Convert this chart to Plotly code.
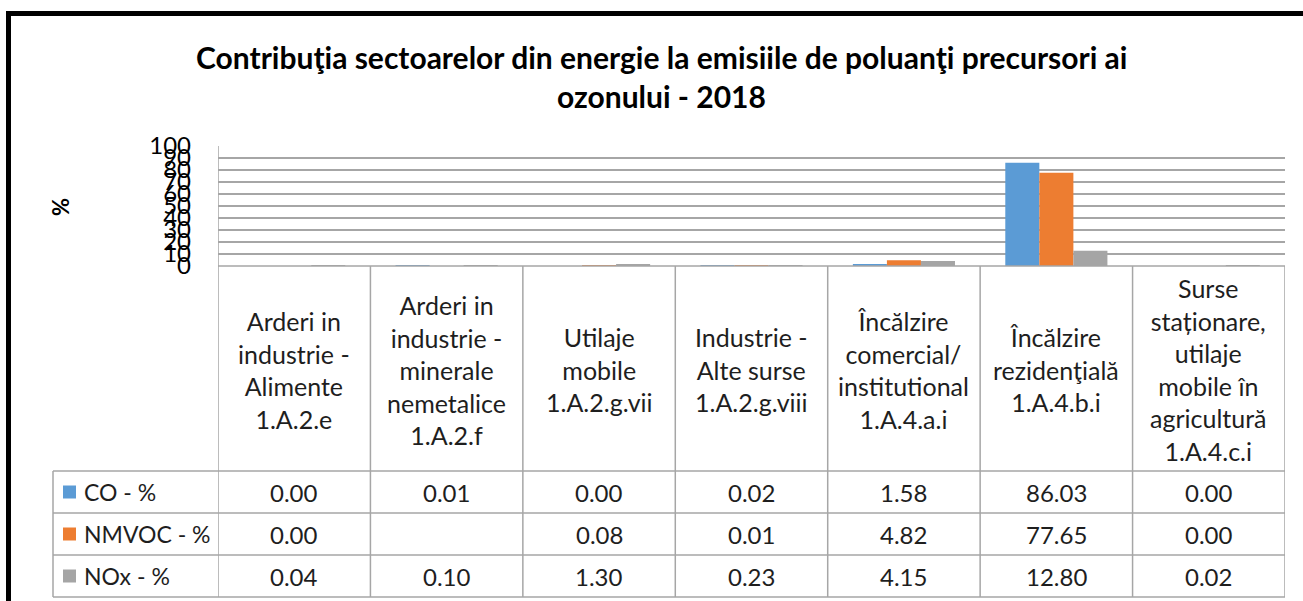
import plotly.graph_objects as go

categories = [
    "Arderi in<br>industrie -<br>Alimente<br>1.A.2.e",
    "Arderi in<br>industrie -<br>minerale<br>nemetalice<br>1.A.2.f",
    "Utilaje<br>mobile<br>1.A.2.g.vii",
    "Industrie -<br>Alte surse<br>1.A.2.g.viii",
    "Încălzire<br>comercial/<br>institutional<br>1.A.4.a.i",
    "Încălzire<br>rezidenţială<br>1.A.4.b.i",
    "Surse<br>staționare,<br>utilaje<br>mobile în<br>agricultură<br>1.A.4.c.i",
]
series_names = ["CO - %", "NMVOC - %", "NOx - %"]
co = [0.00, 0.01, 0.00, 0.02, 1.58, 86.03, 0.00]
nmvoc = [0.00, None, 0.08, 0.01, 4.82, 77.65, 0.00]
nox = [0.04, 0.10, 1.30, 0.23, 4.15, 12.80, 0.02]
colors = ["#5B9BD5", "#ED7D31", "#A5A5A5"]
y_ticks = [0, 10, 20, 30, 40, 50, 60, 70, 80, 90, 100]
title_lines = ["Contribuţia sectoarelor din energie la emisiile de poluanţi precursori ai",
               "ozonului - 2018"]
y_title = "%"

W, H = 1303, 601
FONT = "Lato"
TXT = "#1e1e1e"
GRID = "#a6a6a6"


def px(x):
    return x / W


def py(y):
    return 1 - y / H


X0, X1 = 218, 1285
Y_TOP, Y_ZERO = 146, 266
ROWS = [471, 513, 555, 597]
LEG_X = 53

xs = list(range(len(categories)))
all_series = [co, nmvoc, nox]

fig = go.Figure()
for name, vals, col in zip(series_names, all_series, colors):
    fig.add_trace(go.Bar(x=xs, y=vals, name=name, marker=dict(color=col, line=dict(width=0)),
                         showlegend=False, hoverinfo="skip"))

shapes = []
# outer frame
shapes.append(dict(type="line", xref="paper", yref="paper", x0=px(6), x1=px(1310), y0=py(13.5), y1=py(13.5),
                   line=dict(color="black", width=5)))
shapes.append(dict(type="line", xref="paper", yref="paper", x0=px(8.5), x1=px(8.5), y0=py(11), y1=py(620),
                   line=dict(color="black", width=5)))
# table verticals
for i in range(len(categories) + 1):
    shapes.append(dict(type="line", xref="x", yref="paper", x0=i - 0.5, x1=i - 0.5,
                       y0=py(Y_ZERO if i > 0 else Y_TOP), y1=py(ROWS[-1]),
                       line=dict(color=GRID, width=1.5)))
shapes.append(dict(type="line", xref="paper", yref="paper", x0=px(LEG_X), x1=px(LEG_X),
                   y0=py(ROWS[0]), y1=py(ROWS[-1]), line=dict(color=GRID, width=1.5)))
# table horizontals
shapes.append(dict(type="line", xref="paper", yref="paper", x0=px(X0), x1=px(X1),
                   y0=py(Y_ZERO), y1=py(Y_ZERO), line=dict(color=GRID, width=1.5)))
for r in ROWS:
    shapes.append(dict(type="line", xref="paper", yref="paper", x0=px(LEG_X), x1=px(X1),
                       y0=py(r), y1=py(r), line=dict(color=GRID, width=1.5)))

annotations = []
# title
for t, yy in zip(title_lines, [57, 96]):
    annotations.append(dict(text="<b>%s</b>" % t, xref="paper", yref="paper", x=px(661), y=py(yy),
                            xanchor="center", yanchor="middle", showarrow=False,
                            font=dict(family=FONT, size=30, color="black")))
annotations.append(dict(text="<b>%s</b>" % y_title, xref="paper", yref="paper", x=px(60), y=py(207),
                        xanchor="center", yanchor="middle", showarrow=False, textangle=-90,
                        font=dict(family=FONT, size=22, color="black")))
# header categories
for i, c in enumerate(categories):
    annotations.append(dict(text=c, xref="x", yref="paper", x=i, y=py((Y_ZERO + ROWS[0]) / 2 + 1),
                            xanchor="center", yanchor="middle", showarrow=False,
                            font=dict(family=FONT, size=25, color=TXT)))
# rows
for k, (name, vals, col) in enumerate(zip(series_names, all_series, colors)):
    yc = (ROWS[k] + ROWS[k + 1]) / 2
    shapes.append(dict(type="rect", xref="paper", yref="paper", x0=px(63), x1=px(76),
                       y0=py(yc - 6.5), y1=py(yc + 6.5), fillcolor=col, line=dict(width=0)))
    annotations.append(dict(text=name, xref="paper", yref="paper", x=px(82), y=py(yc),
                            xanchor="left", yanchor="middle", showarrow=False,
                            font=dict(family=FONT, size=23, color=TXT)))
    for i, v in enumerate(vals):
        if v is None:
            continue
        annotations.append(dict(text="%.2f" % v, xref="x", yref="paper", x=i, y=py(yc),
                                xanchor="center", yanchor="middle", showarrow=False,
                                font=dict(family=FONT, size=24, color=TXT)))

fig.update_layout(
    width=W, height=H,
    margin=dict(l=0, r=0, t=0, b=0, pad=0, autoexpand=False),
    paper_bgcolor="white", plot_bgcolor="white",
    barmode="group", bargap=0.33, bargroupgap=0,
    shapes=shapes, annotations=annotations,
    hovermode=False,
    xaxis=dict(domain=[px(X0), px(X1)], range=[-0.5, len(categories) - 0.5], automargin=False,
               showticklabels=False, showgrid=False, zeroline=False, showline=False, ticks=""),
    yaxis=dict(domain=[py(Y_ZERO), py(Y_TOP)], range=[0, 100], tickvals=y_ticks, automargin=False,
               showgrid=True, gridcolor=GRID, gridwidth=1.5, zeroline=False, showline=False,
               ticks="", ticklabelstandoff=26,
               tickfont=dict(family=FONT, size=24, color="black")),
    font=dict(family=FONT),
)

fig.write_html("out.html", config={"displayModeBar": False},
               post_script="document.body.style.margin='0px';"
               "document.body.style.overflow='hidden';")
